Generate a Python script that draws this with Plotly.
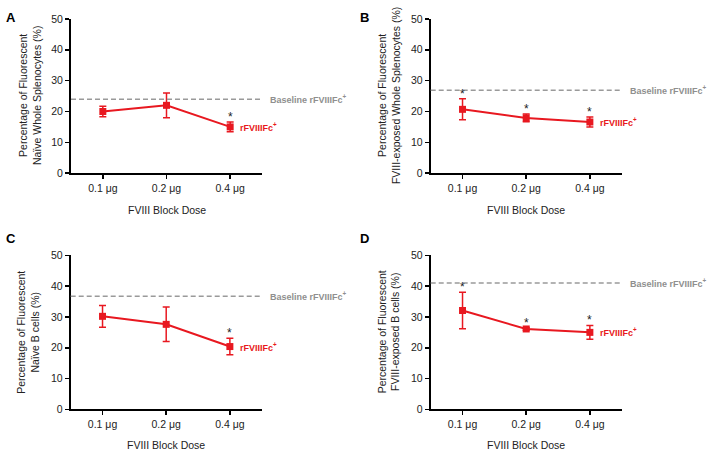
import plotly.graph_objects as go

W, H = 708, 458

doses = ["0.1 μg", "0.2 μg", "0.4 μg"]

# Panel A – naïve whole splenocytes
a_mean = [20.0, 22.0, 15.0]
a_err = [1.7, 4.0, 1.6]
a_base = 24.0
a_sig = [False, False, True]

# Panel B – FVIII-exposed whole splenocytes
b_mean = [20.7, 17.9, 16.6]
b_err = [3.4, 1.25, 1.65]
b_base = 26.9
b_sig = [True, True, True]

# Panel C – naïve B cells
c_mean = [30.2, 27.6, 20.4]
c_err = [3.5, 5.6, 2.7]
c_base = 36.7
c_sig = [False, False, True]

# Panel D – FVIII-exposed B cells
d_mean = [32.1, 26.1, 25.0]
d_err = [5.9, 0.4, 2.25]
d_base = 41.0
d_sig = [True, True, True]

y_titles = [
    "Percentage of Fluorescent<br>Naïve Whole Splenocytes (%)",
    "Percentage of Fluorescent<br>FVIII-exposed Whole Splenocytes (%)",
    "Percentage of Fluorescent<br>Naïve B cells (%)",
    "Percentage of Fluorescent<br>FVIII-exposed B cells (%)",
]
letters = ["A", "B", "C", "D"]
x_title = "FVIII Block Dose"
series_label = "<b>rFVIIIFc<sup>+</sup></b>"
base_label = "<b>Baseline rFVIIIFc<sup>+</sup></b>"

RED = "rgb(232,24,32)"
GRAY_TXT = "#8f8f8f"
GRAY_LINE = "#9a9a9a"
FONT = "Liberation Sans, Arial, sans-serif"

# pixel geometry of the four panels: (left, right, top, bottom)
panels_px = [
    (71, 262, 13.3, 171.7),
    (430.7, 621.7, 13.3, 171.7),
    (70.7, 261.7, 256, 414.3),
    (430.7, 621.7, 256, 414.3),
]
ytitle_x = [30, 389, 28.5, 389]
xtitle_y = [210, 210, 451, 451]
letter_pos = [(4, 11.5), (358, 12), (4, 239), (358, 239)]

data = [
    (a_mean, a_err, a_base, a_sig),
    (b_mean, b_err, b_base, b_sig),
    (c_mean, c_err, c_base, c_sig),
    (d_mean, d_err, d_base, d_sig),
]

fig = go.Figure()
annotations = []
shapes = []
layout = {}

for i, ((mean, err, base, sig), (l, r, t, b)) in enumerate(zip(data, panels_px)):
    n = "" if i == 0 else str(i + 1)
    xa, ya = "x" + n, "y" + n
    fig.add_trace(go.Scatter(
        x=doses, y=mean, xaxis=xa, yaxis=ya, mode="lines+markers",
        line=dict(color=RED, width=2),
        marker=dict(symbol="square", size=7, color=RED),
        error_y=dict(type="data", array=err, visible=True, color=RED,
                     thickness=1.5, width=3.5),
        showlegend=False, cliponaxis=False,
    ))
    layout["xaxis" + n] = dict(
        domain=[l / W, r / W], anchor=ya, type="category",
        range=[-0.5, 2.5], showline=True, linecolor="black", linewidth=2,
        ticks="outside", ticklen=4, tickwidth=1.5, tickcolor="black",
        tickfont=dict(size=10.5, color="#222", family=FONT),
        showgrid=False, zeroline=False, fixedrange=True,
    )
    layout["yaxis" + n] = dict(
        domain=[1 - b / H, 1 - t / H], anchor=xa, range=[0, 50],
        tickvals=[0, 10, 20, 30, 40, 50],
        showline=True, linecolor="black", linewidth=2,
        ticks="outside", ticklen=4, tickwidth=1.5, tickcolor="black",
        tickfont=dict(size=10.5, color="#222", family=FONT),
        showgrid=False, zeroline=False, fixedrange=True,
    )
    # baseline dashed line
    shapes.append(dict(type="line", xref=xa + " domain", yref=ya,
                       x0=0, x1=1, y0=base, y1=base,
                       line=dict(color=GRAY_LINE, width=1.5, dash="5px,3px")))
    annotations.append(dict(xref=xa + " domain", yref=ya, x=1, y=base,
                            xanchor="left", yanchor="middle", xshift=6,
                            text=base_label, showarrow=False,
                            font=dict(size=9, color=GRAY_TXT, family=FONT)))
    # series label
    annotations.append(dict(xref=xa, yref=ya, x=doses[-1], y=mean[-1],
                            xanchor="left", yanchor="middle", xshift=8,
                            text=series_label, showarrow=False,
                            font=dict(size=9, color=RED, family=FONT)))
    # significance stars
    for d, m, e, s in zip(doses, mean, err, sig):
        if s:
            annotations.append(dict(xref=xa, yref=ya, x=d, y=m + e,
                                    xanchor="center", yanchor="bottom", yshift=-4,
                                    text="*", showarrow=False,
                                    font=dict(size=12, color="#222", family=FONT)))
    # y title
    annotations.append(dict(xref="paper", yref="paper",
                            x=ytitle_x[i] / W, y=1 - (t + b) / 2 / H,
                            xanchor="center", yanchor="middle", textangle=-90,
                            text=y_titles[i], showarrow=False,
                            font=dict(size=10.5, color="#222", family=FONT)))
    # x title
    annotations.append(dict(xref="paper", yref="paper",
                            x=(l + r) / 2 / W, y=1 - xtitle_y[i] / H,
                            xanchor="center", yanchor="middle",
                            text=x_title, showarrow=False,
                            font=dict(size=10.5, color="#222", family=FONT)))
    # panel letter
    lx, ly = letter_pos[i]
    annotations.append(dict(xref="paper", yref="paper",
                            x=lx / W, y=1 - ly / H,
                            xanchor="left", yanchor="middle",
                            text="<b>" + letters[i] + "</b>", showarrow=False,
                            font=dict(size=13, color="black", family=FONT)))

fig.update_layout(
    width=W, height=H, margin=dict(l=0, r=0, t=0, b=0),
    paper_bgcolor="white", plot_bgcolor="white",
    font=dict(family=FONT),
    annotations=annotations, shapes=shapes,
    **layout,
)

fig.write_html("out.html",
               config={"displayModeBar": False, "staticPlot": True},
               post_script="document.body.style.margin='0';document.body.style.overflow='hidden';")
